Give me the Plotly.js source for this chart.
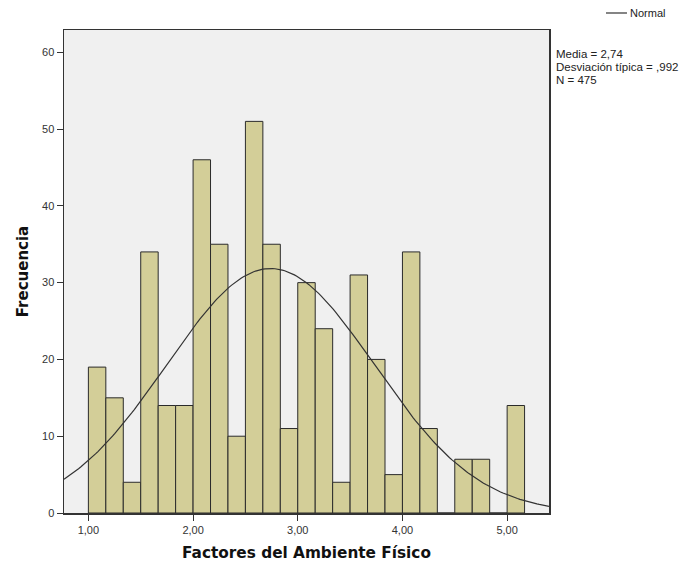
<!DOCTYPE html>
<html>
<head>
<meta charset="utf-8">
<script src="https://cdn.plot.ly/plotly-3.0.1.min.js"></script>
<style>
  html, body { margin: 0; padding: 0; background: #ffffff; }
  #chart { width: 694px; height: 569px; }
</style>
</head>
<body>
<div id="chart"></div>
<script>
// Histogram bins: lower edge of each bin and its frequency
const binWidth = 1 / 6;
const binStarts = [1.0, 1.1667, 1.3333, 1.5, 1.6667, 1.8333,
                   2.0, 2.1667, 2.3333, 2.5, 2.6667, 2.8333,
                   3.0, 3.1667, 3.3333, 3.5, 3.6667, 3.8333,
                   4.0, 4.1667, 4.3333, 4.5, 4.6667, 4.8333,
                   5.0];
const counts = [19, 15, 4, 34, 14, 14,
                46, 35, 10, 51, 35, 11,
                30, 24, 4, 31, 20, 5,
                34, 11, 0, 7, 7, 0,
                14];

// Summary statistics shown beside the plot
const media = 2.74;
const desviacion = 0.992;
const n = 475;

const xTicks = [1, 2, 3, 4, 5];
const yTicks = [0, 10, 20, 30, 40, 50, 60];

// Bin centres for the bars
const centers = binStarts.map(s => s + binWidth / 2);

// Fitted normal curve scaled to frequency per bin
const xMin = 0.767, xMax = 5.40;
const curveX = [];
const curveY = [];
const steps = 200;
for (let i = 0; i <= steps; i++) {
  const x = xMin + (xMax - xMin) * i / steps;
  const z = (x - media) / desviacion;
  const pdf = Math.exp(-0.5 * z * z) / (desviacion * Math.sqrt(2 * Math.PI));
  curveX.push(x);
  curveY.push(n * binWidth * pdf);
}

const curveColor = '#333333';

const bars = {
  type: 'bar',
  x: centers,
  y: counts,
  width: binWidth,
  marker: { color: '#D3CE98', line: { color: '#2b2b2b', width: 1 } },
  showlegend: false,
  hoverinfo: 'x+y'
};

const curve = {
  type: 'scatter',
  mode: 'lines',
  x: curveX,
  y: curveY,
  name: 'Normal',
  line: { color: curveColor, width: 1.2 },
  showlegend: false
};

const titleFont = { family: '"DejaVu Sans", sans-serif', weight: 'bold', color: '#111111' };
const textFont = { family: 'Arial, "Liberation Sans", sans-serif', color: '#222222' };

const statsLines = [
  'Media = ' + media.toFixed(2).replace('.', ','),
  'Desviación típica = ' + desviacion.toFixed(3).replace('0.', ','),
  'N = ' + n
];
const statsY = [0.9503, 0.9234, 0.8965];

const annotations = statsLines.map((t, i) => ({
  xref: 'paper', yref: 'paper',
  x: 1.0124, y: statsY[i],
  xanchor: 'left', yanchor: 'middle',
  align: 'left',
  showarrow: false,
  borderpad: 0,
  text: t,
  font: Object.assign({ size: 11.5 }, textFont)
}));

// Key for the normal curve
annotations.push({
  xref: 'paper', yref: 'paper',
  x: 1.163, y: 1.0352,
  xanchor: 'left', yanchor: 'middle',
  showarrow: false,
  text: 'Normal',
  font: Object.assign({ size: 11 }, textFont)
});

const layout = {
  width: 694,
  height: 569,
  margin: { l: 64, r: 145, t: 30, b: 56, autoexpand: false },
  paper_bgcolor: '#ffffff',
  plot_bgcolor: '#F0F0F0',
  separators: ',.',
  font: Object.assign({ size: 11 }, textFont),
  bargap: 0,
  xaxis: {
    range: [xMin, xMax],
    tickvals: xTicks,
    tickformat: '.2f',
    ticks: 'outside',
    ticklen: 6,
    tickcolor: '#333333',
    showgrid: false,
    zeroline: false,
    showline: true,
    linecolor: '#333333',
    linewidth: 1.5,
    mirror: true,
    tickfont: { size: 11, color: '#333333' },
    title: { text: 'Factores del Ambiente Físico', font: Object.assign({ size: 15.3 }, titleFont), standoff: 12 }
  },
  yaxis: {
    range: [0, 62.9],
    tickvals: yTicks,
    ticks: 'outside',
    ticklen: 6,
    tickcolor: '#333333',
    showgrid: false,
    zeroline: false,
    showline: true,
    linecolor: '#333333',
    linewidth: 1.5,
    mirror: true,
    tickfont: { size: 11, color: '#333333' },
    title: { text: 'Frecuencia', font: Object.assign({ size: 15 }, titleFont), standoff: 10 }
  },
  shapes: [{
    type: 'line',
    xref: 'paper', yref: 'paper',
    x0: 1.1175, x1: 1.1608, y0: 1.0352, y1: 1.0352,
    line: { color: curveColor, width: 1.2 }
  }],
  annotations: annotations
};

Plotly.newPlot('chart', [bars, curve], layout, { displayModeBar: false, staticPlot: true });
</script>
</body>
</html>
